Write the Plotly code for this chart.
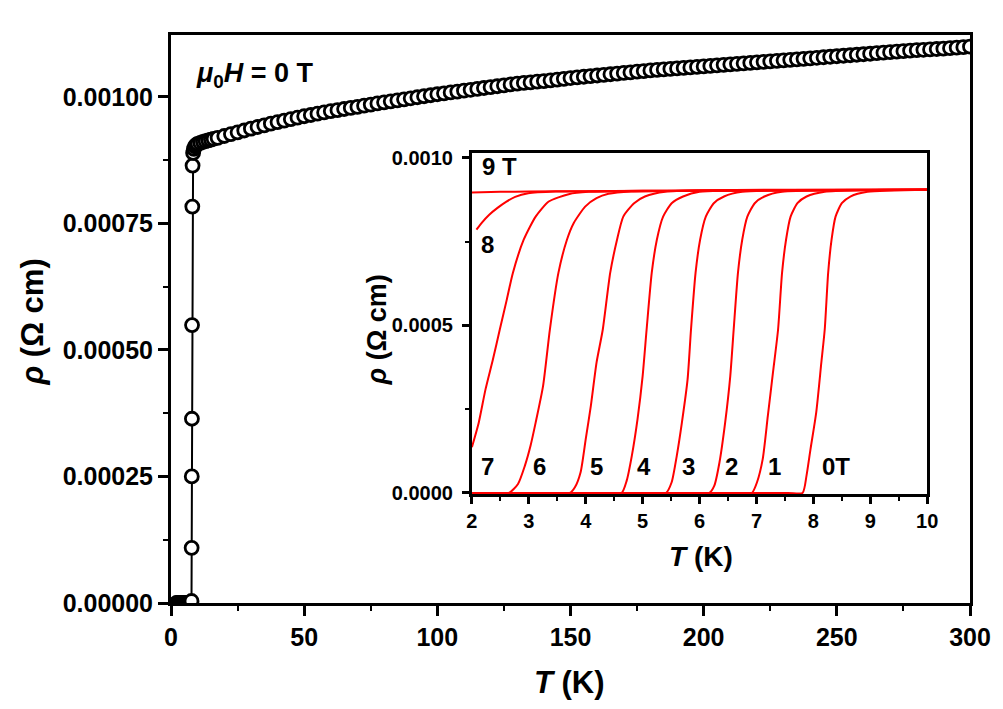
import plotly.graph_objects as go

FONT = "Arial, Liberation Sans, sans-serif"

# ---- main panel: zero-field resistivity, values in 1e-3 Ohm cm ----
T_main = [2.0, 2.5, 3.0, 3.5, 4.0, 4.5, 5.0, 5.5, 6.0, 6.5, 7.0, 7.5,
          7.7, 7.75, 7.8, 7.85, 7.9, 8.0, 8.1, 8.3, 8.6, 9.0, 9.5,
          10, 11, 12, 13, 14, 15, 16, 17.5, 20, 22.5, 25, 27.5, 30,
          32.5, 35, 37.5, 40, 42.5, 45, 47.5, 50, 52.5, 55, 57.5, 60,
          62.5, 65, 67.5, 70, 72.5, 75, 77.5, 80, 82.5, 85, 87.5, 90,
          92.5, 95, 97.5, 100, 102.5, 105, 107.5, 110, 112.5, 115, 117.5, 120,
          122.5, 125, 127.5, 130, 132.5, 135, 137.5, 140, 142.5, 145, 147.5, 150,
          152.5, 155, 157.5, 160, 162.5, 165, 167.5, 170, 172.5, 175, 177.5, 180,
          182.5, 185, 187.5, 190, 192.5, 195, 197.5, 200, 202.5, 205, 207.5, 210,
          212.5, 215, 217.5, 220, 222.5, 225, 227.5, 230, 232.5, 235, 237.5, 240,
          242.5, 245, 247.5, 250, 252.5, 255, 257.5, 260, 262.5, 265, 267.5, 270,
          272.5, 275, 277.5, 280, 282.5, 285, 287.5, 290, 292.5, 295, 297.5, 300]
rho_main = [0, 0, 0, 0, 0, 0, 0, 0, 0, 0, 0, 0,
            0.004, 0.109, 0.250, 0.364, 0.549, 0.783, 0.864, 0.889, 0.897, 0.902, 0.905,
            0.907, 0.909, 0.911, 0.9125, 0.914, 0.9155, 0.917, 0.9188, 0.9225, 0.9262, 0.9298, 0.9334, 0.9370,
            0.9403, 0.9436, 0.9468, 0.9500, 0.9529, 0.9558, 0.9586, 0.9615, 0.9640, 0.9665, 0.9690, 0.9715,
            0.9736, 0.9758, 0.9779, 0.9800, 0.9823, 0.9845, 0.9868, 0.9890, 0.9910, 0.9930, 0.9950, 0.9970,
            0.9990, 1.0010, 1.0030, 1.0050, 1.0068, 1.0085, 1.0103, 1.0120, 1.0138, 1.0155, 1.0173, 1.0190,
            1.0208, 1.0225, 1.0243, 1.0260, 1.0273, 1.0285, 1.0298, 1.0310, 1.0325, 1.0340, 1.0355, 1.0370,
            1.0383, 1.0395, 1.0408, 1.0420, 1.0433, 1.0445, 1.0458, 1.0470, 1.0483, 1.0495, 1.0508, 1.0520,
            1.0530, 1.0540, 1.0550, 1.0560, 1.0570, 1.0580, 1.0590, 1.0600, 1.0610, 1.0620, 1.0630, 1.0640,
            1.0650, 1.0660, 1.0670, 1.0680, 1.0690, 1.0700, 1.0710, 1.0720, 1.0730, 1.0740, 1.0750, 1.0760,
            1.0770, 1.0780, 1.0790, 1.0800, 1.0810, 1.0820, 1.0830, 1.0840, 1.0850, 1.0860, 1.0870, 1.0880,
            1.0890, 1.0900, 1.0910, 1.0920, 1.0928, 1.0935, 1.0943, 1.0950, 1.0960, 1.0970, 1.0980, 1.0990]

# ---- inset: low-T transitions in fields 0-9 T, values in 1e-3 Ohm cm ----
T_9T = [2.0, 2.5, 3.0, 4.0, 5.0, 6.0, 8.0, 10.0]
rho_9T = [0.897, 0.899, 0.900, 0.901, 0.902, 0.903, 0.904, 0.905]
T_8T = [2.08, 2.18, 2.3, 2.45, 2.6, 2.76, 2.99, 3.47, 5.0, 10.0]
rho_8T = [0.786, 0.808, 0.830, 0.851, 0.869, 0.884, 0.895, 0.900, 0.902, 0.905]
T_7T = [2.0, 2.12, 2.24, 2.37, 2.49, 2.61, 2.72, 2.91, 3.12, 3.35, 3.70, 4.05, 6.0, 10.0]
rho_7T = [0.137, 0.210, 0.310, 0.399, 0.488, 0.575, 0.657, 0.756, 0.825, 0.870, 0.892, 0.899, 0.902, 0.905]
T_6T = [2.0, 2.4, 2.65, 2.81, 2.93, 3.03, 3.12, 3.25, 3.37, 3.52, 3.67, 3.79, 3.99, 4.19, 4.40, 4.8, 10.0]
rho_6T = [0, 0, 0, 0.027, 0.081, 0.141, 0.210, 0.319, 0.488, 0.657, 0.756, 0.806, 0.855, 0.880, 0.893, 0.900, 0.905]
T_5T = [2.0, 3.45, 3.72, 3.81, 3.91, 4.00, 4.09, 4.19, 4.30, 4.43, 4.55, 4.66, 4.85, 5.04, 5.4, 10.0]
rho_5T = [0, 0, 0, 0.017, 0.062, 0.161, 0.260, 0.389, 0.488, 0.657, 0.756, 0.825, 0.865, 0.885, 0.899, 0.905]
T_4T = [2.0, 4.35, 4.63, 4.72, 4.81, 4.91, 5.00, 5.07, 5.16, 5.25, 5.36, 5.51, 5.71, 6.0, 10.0]
rho_4T = [0, 0, 0, 0.037, 0.111, 0.220, 0.349, 0.488, 0.657, 0.756, 0.825, 0.865, 0.885, 0.899, 0.905]
T_3T = [2.0, 5.15, 5.41, 5.51, 5.60, 5.69, 5.79, 5.85, 5.93, 6.01, 6.11, 6.25, 6.43, 6.75, 10.0]
rho_3T = [0, 0, 0, 0.032, 0.111, 0.210, 0.339, 0.488, 0.657, 0.756, 0.825, 0.865, 0.885, 0.899, 0.905]
T_2T = [2.0, 5.9, 6.17, 6.26, 6.35, 6.45, 6.54, 6.60, 6.675, 6.75, 6.84, 6.97, 7.14, 7.45, 10.0]
rho_2T = [0, 0, 0, 0.022, 0.091, 0.210, 0.349, 0.488, 0.657, 0.756, 0.825, 0.865, 0.885, 0.899, 0.905]
T_1T = [2.0, 6.65, 6.92, 7.01, 7.11, 7.20, 7.29, 7.38, 7.45, 7.52, 7.60, 7.72, 7.88, 8.2, 10.0]
rho_1T = [0, 0, 0, 0.032, 0.101, 0.230, 0.359, 0.488, 0.657, 0.756, 0.825, 0.865, 0.885, 0.899, 0.905]
T_0T = [2.0, 7.55, 7.81, 7.88, 7.95, 8.05, 8.14, 8.20, 8.26, 8.32, 8.39, 8.50, 8.65, 8.95, 10.0]
rho_0T = [0, 0, 0, 0.052, 0.131, 0.240, 0.389, 0.488, 0.657, 0.756, 0.825, 0.865, 0.885, 0.899, 0.905]

inset_curves = [(T_9T, rho_9T), (T_8T, rho_8T), (T_7T, rho_7T), (T_6T, rho_6T),
                (T_5T, rho_5T), (T_4T, rho_4T), (T_3T, rho_3T), (T_2T, rho_2T),
                (T_1T, rho_1T), (T_0T, rho_0T)]

# field labels in the inset and their positions (T, rho in 1e-3)
field_labels = ["9 T", "8", "7", "6", "5", "4", "3", "2", "1", "0T"]
label_T = [2.15, 2.28, 2.27, 3.18, 4.19, 5.02, 5.81, 6.57, 7.31, 8.39]
label_rho = [0.975, 0.741, 0.080, 0.080, 0.080, 0.080, 0.080, 0.080, 0.080, 0.080]

fig = go.Figure()

fig.add_trace(go.Scatter(
    x=T_main, y=[v * 1e-3 for v in rho_main],
    mode="lines+markers",
    line=dict(color="black", width=2),
    marker=dict(symbol="circle", size=13, color="white",
                line=dict(color="black", width=2.8)),
    showlegend=False,
))

for T, r in inset_curves:
    fig.add_trace(go.Scatter(
        x=T, y=[v * 1e-3 for v in r],
        xaxis="x2", yaxis="y2",
        mode="lines",
        line=dict(color="#ff0000", width=2, shape="spline", smoothing=0.6),
        showlegend=False,
    ))

axis_common = dict(
    showline=True, linecolor="black", linewidth=3, mirror=True,
    ticks="outside", tickcolor="black", tickwidth=2.5,
    showgrid=False, zeroline=False,
)

# the page body adds ~8 px around the figure, so the margins are trimmed by that
fig.update_layout(
    width=995, height=701,
    margin=dict(l=163, r=30, t=27, b=106),
    paper_bgcolor="white", plot_bgcolor="white",
    font=dict(family=FONT, color="black"),
    xaxis=dict(
        **axis_common, range=[0, 300], dtick=50, ticklen=10,
        tickfont=dict(size=25, weight="bold"),
        minor=dict(dtick=25, ticks="outside", ticklen=5, tickwidth=2, tickcolor="black"),
    ),
    yaxis=dict(
        **axis_common, range=[0, 0.001122], tickvals=[0, 0.00025, 0.0005, 0.00075, 0.001],
        tickformat=".5f", ticklen=10,
        tickfont=dict(size=25, weight="bold"),
        minor=dict(dtick=0.000125, ticks="outside", ticklen=5, tickwidth=2, tickcolor="black"),
    ),
    xaxis2=dict(
        **axis_common, domain=[0.3766, 0.9464], anchor="y2",
        range=[2, 10], dtick=1, ticklen=7,
        tickfont=dict(size=20, weight="bold"),
        minor=dict(dtick=0.5, ticks="outside", ticklen=4, tickwidth=2, tickcolor="black"),
    ),
    yaxis2=dict(
        **axis_common, domain=[0.1919, 0.7923], anchor="x2",
        range=[-0.000003, 0.001015], tickvals=[0, 0.0005, 0.001],
        tickformat=".4f", ticklen=7, ticklabelstandoff=5,
        tickfont=dict(size=20, weight="bold"),
        minor=dict(dtick=0.00025, ticks="outside", ticklen=4, tickwidth=2, tickcolor="black"),
    ),
)

annotations = [
    # main axis titles
    dict(text="<b><i>T</i> (K)</b>", x=0.4988, y=-0.1408, xref="paper", yref="paper",
         xanchor="center", yanchor="middle", showarrow=False, font=dict(size=31)),
    dict(text="<b><i>ρ</i> (Ω cm)</b>", x=-0.1745, y=0.4947, xref="paper", yref="paper",
         xanchor="center", yanchor="middle", textangle=-90, showarrow=False, font=dict(size=31)),
    # inset axis titles
    dict(text="<b><i>T</i> (K)</b>", x=0.6633, y=0.081, xref="paper", yref="paper",
         xanchor="center", yanchor="middle", showarrow=False, font=dict(size=28)),
    dict(text="<b><i>ρ</i> (Ω cm)</b>", x=0.258, y=0.4806, xref="paper", yref="paper",
         xanchor="center", yanchor="middle", textangle=-90, showarrow=False, font=dict(size=27)),
    # field label in the main panel
    dict(text="<b><i>μ</i><sub>0</sub><i>H</i> = 0 T</b>", x=8.6, y=0.001043, xref="x", yref="y",
         xanchor="left", yanchor="middle", showarrow=False, font=dict(size=27)),
]
for lab, t, r in zip(field_labels, label_T, label_rho):
    annotations.append(dict(
        text=f"<b>{lab}</b>", x=t, y=r * 1e-3, xref="x2", yref="y2",
        xanchor="left" if lab == "9 T" else "center", yanchor="middle",
        showarrow=False, font=dict(size=24),
    ))
fig.update_layout(annotations=annotations)

fig.write_html("out.html")
